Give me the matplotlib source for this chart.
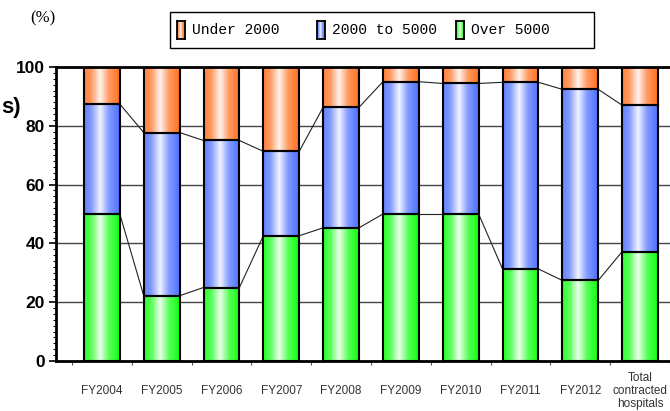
import numpy as np
import matplotlib.pyplot as plt
from matplotlib.patches import Rectangle
from matplotlib.colors import to_rgb

labels = ['FY2004', 'FY2005', 'FY2006', 'FY2007', 'FY2008', 'FY2009',
          'FY2010', 'FY2011', 'FY2012', 'Total\ncontracted\nhospitals']
over_5000 = [50.0, 22.2, 25.0, 42.6, 45.3, 50.0, 50.0, 31.3, 27.4, 37.2]
mid_2000_5000 = [37.4, 55.5, 50.0, 28.7, 41.0, 45.0, 44.4, 63.5, 65.0, 49.8]
under_2000 = [100 - a - b for a, b in zip(over_5000, mid_2000_5000)]

series = [('Over 5000', over_5000, '#11FF11'),
          ('2000 to 5000', mid_2000_5000, '#4D70FF'),
          ('Under 2000', under_2000, '#FF7020')]

W, H = 670, 411
fig = plt.figure(figsize=(W / 100, H / 100), dpi=100)
ax = fig.add_axes([56 / W, (H - 361) / H, (W - 56) / W, 294 / H])

x = np.arange(len(labels))
bw = 0.6


def gradient(color, n=64):
    base = np.array(to_rgb(color))
    t = np.linspace(0, 1, n)
    w = np.interp(t, [0, 0.2, 0.45, 0.7, 1], [0.12, 0.3, 0.92, 0.3, 0.0])
    g = base[None, :] * (1 - w[:, None]) + w[:, None]
    return g[None, :, :]


bottom = np.zeros(len(x))
tops = []
for name, vals, col in series:
    vals = np.array(vals)
    bars = ax.bar(x, vals, bw, bottom=bottom, facecolor='none',
                  edgecolor='black', linewidth=1.5, zorder=3)
    img = gradient(col)
    for b in bars:
        x0, y0 = b.get_x(), b.get_y()
        im = ax.imshow(img, extent=(x0, x0 + b.get_width(), y0, y0 + b.get_height()),
                       aspect='auto', zorder=2, interpolation='bilinear')
        im.set_clip_path(b)
    bottom = bottom + vals
    tops.append(bottom.copy())

# connecting lines between segment tops
for cum in tops[:2]:
    for i in range(len(x) - 1):
        ax.plot([x[i] + bw / 2, x[i + 1] - bw / 2], [cum[i], cum[i + 1]],
                color='#222222', lw=0.8, zorder=2.5)

ax.set_xlim(-0.767, -0.767 + (W - 56) / 60)
ax.set_ylim(0, 100)

ax.set_yticks(np.arange(0, 101, 20))
ax.set_yticks(np.arange(0, 101, 2), minor=True)
ax.tick_params(axis='y', which='major', length=5, width=1.2, pad=3,
               labelsize=12.5, direction='out')
ax.tick_params(axis='y', which='minor', length=2.5, width=0.8, direction='out')
for lab in ax.get_yticklabels():
    lab.set_fontweight('bold')
    lab.set_family('Liberation Sans')

ax.set_xticks(np.arange(-0.5, len(x), 1))
ax.set_xticklabels([])
ax.set_xticks(x, minor=True)
ax.set_xticklabels(labels, minor=True, fontsize=8.5, color='#333333',
                   family='Liberation Sans', linespacing=1.1)
ax.tick_params(axis='x', which='major', length=3, width=0.8, direction='out', color='#555555')
ax.tick_params(axis='x', which='minor', length=0, pad=21.5)
for lab in ax.get_xticklabels(minor=True):
    lab.set_va('center')

ax.grid(axis='y', which='major', color='#444444', lw=1, zorder=1)
ax.set_axisbelow(True)
for s in ['left', 'bottom', 'top']:
    ax.spines[s].set_linewidth(2)
ax.spines['right'].set_visible(False)

# unit label and side label cut by the left edge
fig.text(43 / W, 1 - 18 / H, '(%)', family='Liberation Serif', fontsize=12,
         ha='center', va='center')
fig.text(1 / W, 1 - 107 / H, 's)', fontsize=16, fontweight='bold',
         family='Liberation Sans', ha='left', va='center')

# legend box
fig.patches.append(Rectangle((170 / W, 1 - 48 / H), 424 / W, 36 / H,
                             transform=fig.transFigure, facecolor='white',
                             edgecolor='black', lw=1, zorder=5))
leg_items = [('Under 2000', '#FF7020', 177),
             ('2000 to 5000', '#4D70FF', 317),
             ('Over 5000', '#11FF11', 456)]
for name, col, px in leg_items:
    hax = fig.add_axes([px / W, 1 - 39 / H, 8 / W, 18 / H], zorder=6)
    hax.imshow(gradient(col), aspect='auto', interpolation='bilinear')
    hax.set_xticks([])
    hax.set_yticks([])
    for s in hax.spines.values():
        s.set_linewidth(1.3)
    fig.text((px + 15) / W, 1 - 30 / H, name, family='Liberation Mono',
             fontsize=10.5, va='center', ha='left', zorder=6)

fig.savefig('out.png', dpi=100)
